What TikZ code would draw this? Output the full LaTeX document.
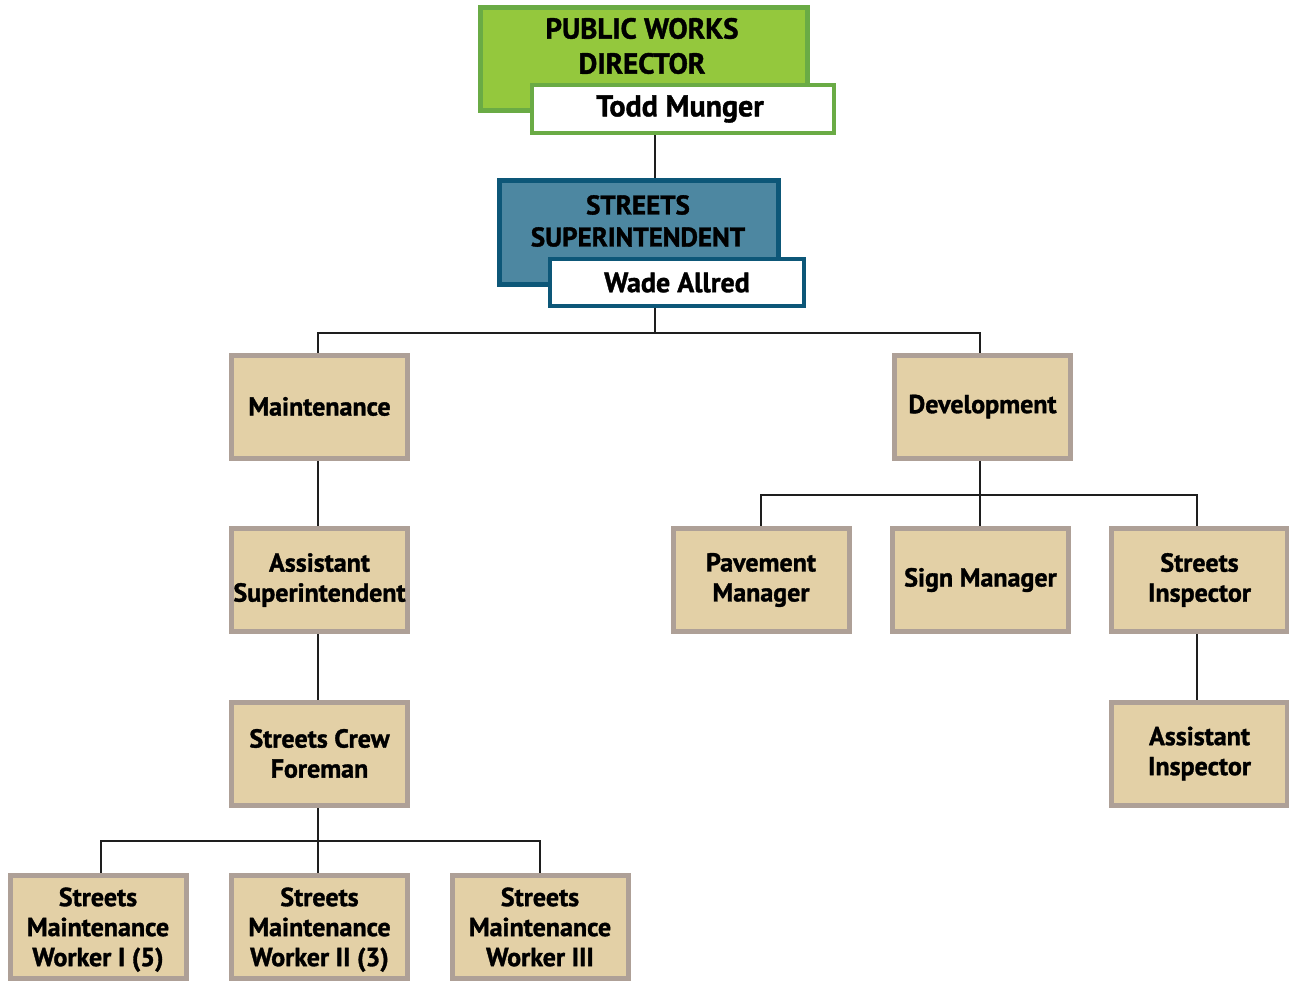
\documentclass[tikz,border=0pt]{standalone}
\usepackage{fontspec}
\setmainfont{PT Sans}[BoldFeatures={FakeBold=1.3}]
\definecolor{tanfill}{HTML}{E3D0A6}
\definecolor{tanedge}{HTML}{AEA097}
\definecolor{greenfill}{HTML}{94C83D}
\definecolor{greenedge}{HTML}{6AAB45}
\definecolor{bluefill}{HTML}{4D87A1}
\definecolor{blueedge}{HTML}{0D5778}
\definecolor{linec}{HTML}{1E1E1E}
\pgfdeclarelayer{background}
\pgfsetlayers{background,main}
\begin{document}
\begin{tikzpicture}[x=1pt,y=-1pt,
  lbl/.style={font=\fontsize{26}{30}\selectfont\bfseries, text=black, align=center, inner sep=0pt},
  box/.style={lbl, draw=tanedge, fill=tanfill, line width=5pt,
              minimum width=176pt, minimum height=103pt},
  headbox/.style={line width=5pt, inner sep=0pt},
  namebox/.style={lbl, draw, fill=white, line width=4pt},
  link/.style={draw=linec, line width=2.7pt}]
\useasboundingbox (0,0) rectangle (1289,981);

% director
\node[headbox, draw=greenedge, fill=greenfill, minimum width=327pt, minimum height=103pt] (dir) at (644,59) {};
\node[lbl, font=\fontsize{29}{35}\selectfont\bfseries] (dirtitle) at (642,46) {PUBLIC WORKS\\DIRECTOR};
\node[namebox, draw=greenedge, minimum width=302pt, minimum height=48pt, font=\fontsize{30}{30}\selectfont\bfseries] (todd) at (683,109) {\hspace*{-6pt}Todd Munger};

% superintendent
\node[headbox, draw=blueedge, fill=bluefill, minimum width=279pt, minimum height=104pt] (sup) at (639,232.5) {};
\node[lbl, font=\fontsize{27}{32}\selectfont\bfseries] (suptitle) at (638,221) {STREETS\\SUPERINTENDENT};
\node[namebox, draw=blueedge, minimum width=254pt, minimum height=47pt, font=\fontsize{28}{30}\selectfont\bfseries] (wade) at (677,282.5) {Wade Allred};

% divisions
\node[box] (maint) at (319.5,406.5) {Maintenance};
\node[box] (dev) at (982.5,406.5) {Development};
\node[box] (asup) at (319.5,580) {Assistant\\Superintendent};
\node[box] (fore) at (319.5,753.5) {Streets Crew\\Foreman};
\node[box] (w1) at (98,927) {Streets\\Maintenance\\Worker I \smash{(5)}};
\node[box] (w2) at (319.5,927) {Streets\\Maintenance\\Worker II \smash{(3)}};
\node[box] (w3) at (540,927) {Streets\\Maintenance\\Worker III};
\node[box] (pave) at (761,580) {Pavement\\Manager};
\node[box] (sign) at (980.5,580) {Sign Manager};
\node[box] (insp) at (1199.5,580) {Streets\\Inspector};
\node[box] (ainsp) at (1199.5,753.5) {Assistant\\Inspector};

% connectors
\coordinate (trunk) at (655,333);
\coordinate (devbus) at (980,495);
\coordinate (crewbus) at (318,841);
\begin{pgfonlayer}{background}
  \draw[link] (todd.south -| trunk) -- (sup.north -| trunk);
  \draw[link] (wade.south -| trunk) -- (trunk);
  \draw[link] (maint.north -| crewbus) |- (trunk) -| (dev.north -| devbus);
  \draw[link] (maint.south -| crewbus) -- (asup.north -| crewbus);
  \draw[link] (asup.south -| crewbus) -- (fore.north -| crewbus);
  \draw[link] (fore.south -| crewbus) -- (crewbus);
  \draw[link] (w1.north) ++(3,0) |- (crewbus) -| (w3.north);
  \draw[link] (crewbus) -- (w2.north -| crewbus);
  \draw[link] (dev.south -| devbus) -- (devbus);
  \draw[link] (pave.north) |- (devbus) -| (insp.north -| 1197,0);
  \draw[link] (devbus) -- (sign.north -| devbus);
  \draw[link] (insp.south -| 1197,0) -- (ainsp.north -| 1197,0);
\end{pgfonlayer}
\end{tikzpicture}
\end{document}
